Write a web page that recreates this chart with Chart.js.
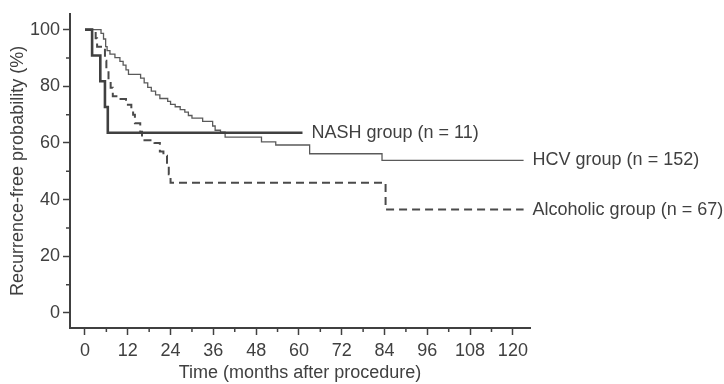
<!DOCTYPE html>
<html>
<head>
<meta charset="utf-8">
<script src="https://cdn.jsdelivr.net/npm/chart.js@4.4.1/dist/chart.umd.min.js"></script>
<style>
  html, body { margin: 0; padding: 0; background: #fff; }
  #wrap { width: 724px; height: 384px; }
</style>
</head>
<body>
<div id="wrap"><canvas id="km"></canvas></div>
<script>
// --- data (months, % recurrence-free) ---
const nashTimes = [0, 2, 4.3, 5.6, 6.4, 61];
const nashSurv  = [100, 90.9, 81.8, 72.7, 63.6, 63.6];

const hcvTimes = [0, 4.5, 5.2, 5.8, 6.2, 7, 8.4, 9.8, 10.7, 11.5, 12.2, 15.6, 16.6, 17.6, 18.6, 19.8, 21, 23.2, 24,
                  25.3, 26.7, 28, 29, 30, 33, 35.8, 36.5, 38, 39.3, 49.5, 53.5, 63, 83.3, 123];
const hcvSurv  = [100, 98.7, 96.7, 94, 92.6, 91.4, 90.1, 88.8, 87.5, 85.8, 84.2, 82.9, 81.2, 79.6, 78.3, 77, 75.7, 74.7, 73.6,
                  72.8, 71.8, 70.9, 69.7, 68.8, 67.6, 66, 64.5, 63.8, 62.1, 60.4, 59.3, 56.2, 53.9, 53.9];

const alcTimes = [0, 3, 3.4, 5.6, 6, 6.6, 7.2, 7.8, 9.5, 11.5, 13, 13.5, 14, 15.5, 16, 19.5, 21, 22, 23, 23.5, 24, 84.3, 123];
const alcSurv  = [100, 97, 94, 89, 86, 82, 79.5, 76.5, 75.5, 73.5, 71.5, 70, 67, 64, 61, 60, 57, 55.5, 52.5, 49, 46, 36.5, 36.5];

const groupLabels = ['NASH group (n = 11)', 'HCV group (n = 152)', 'Alcoholic group (n = 67)'];

const xTicks = [0, 12, 24, 36, 48, 60, 72, 84, 96, 108, 120];
const xMinor = [6, 18, 30, 42, 54, 66, 78, 90, 102, 114];
const yTicks = [0, 20, 40, 60, 80, 100];
const yMinor = [10, 30, 50, 70, 90];

const ink = '#404040';
const fontFamily = '"Liberation Sans", Arial, sans-serif';

function toPoints(ts, vs) {
    return ts.map((t, i) => ({ x: t, y: vs[i] }));
}

// short unlabelled ticks between the labelled ones
const minorTicks = {
    id: 'minorTicks',
    afterDraw(chart) {
        const { ctx, chartArea, scales } = chart;
        ctx.save();
        ctx.strokeStyle = ink;
        ctx.lineWidth = 1.5;
        ctx.beginPath();
        xMinor.forEach(v => {
            const px = scales.x.getPixelForValue(v);
            ctx.moveTo(px, chartArea.bottom);
            ctx.lineTo(px, chartArea.bottom + 4);
        });
        yMinor.forEach(v => {
            const py = scales.y.getPixelForValue(v);
            ctx.moveTo(chartArea.left, py);
            ctx.lineTo(chartArea.left - 4, py);
        });
        ctx.stroke();
        ctx.restore();
    }
};

// group names written at the end of each curve
const endLabels = {
    id: 'endLabels',
    afterDraw(chart) {
        const ctx = chart.ctx;
        ctx.save();
        ctx.fillStyle = ink;
        ctx.font = '18px ' + fontFamily;
        ctx.textBaseline = 'middle';
        ctx.textAlign = 'left';
        chart.data.datasets.forEach((ds, i) => {
            const pts = chart.getDatasetMeta(i).data;
            const last = pts[pts.length - 1];
            ctx.fillText(groupLabels[i], last.x + 9, last.y);
        });
        ctx.restore();
    }
};

const ctx = document.getElementById('km').getContext('2d');
new Chart(ctx, {
    type: 'scatter',
    data: {
        datasets: [
            { label: groupLabels[0], data: toPoints(nashTimes, nashSurv), showLine: true, stepped: true,
              borderColor: '#404040', borderWidth: 2.6, pointRadius: 0 },
            { label: groupLabels[1], data: toPoints(hcvTimes, hcvSurv), showLine: true, stepped: true,
              borderColor: '#5a5a5a', borderWidth: 1.3, pointRadius: 0 },
            { label: groupLabels[2], data: toPoints(alcTimes, alcSurv), showLine: true, stepped: true,
              borderColor: '#4a4a4a', borderWidth: 2, borderDash: [8, 5], pointRadius: 0 }
        ]
    },
    options: {
        responsive: true,
        maintainAspectRatio: false,
        animation: false,
        layout: { padding: { left: 0, right: 194, top: 13, bottom: 0 } },
        plugins: { legend: { display: false }, tooltip: { enabled: false } },
        scales: {
            x: {
                type: 'linear', min: -4.2, max: 124.8,
                afterBuildTicks: s => { s.ticks = xTicks.map(v => ({ value: v })); },
                afterFit: s => { s.height = 56; },
                grid: { drawOnChartArea: false, tickLength: 7, tickColor: ink, tickWidth: 1.5 },
                border: { color: ink, width: 2 },
                ticks: { autoSkip: false, maxRotation: 0, padding: 5, color: ink, font: { size: 18, family: fontFamily } },
                title: { display: true, text: 'Time (months after procedure)', color: ink,
                         padding: { top: 0, bottom: 0 }, font: { size: 18, family: fontFamily } }
            },
            y: {
                type: 'linear', min: -5.3, max: 105.6,
                afterBuildTicks: s => { s.ticks = yTicks.map(v => ({ value: v })); },
                afterFit: s => { s.width = 70; },
                grid: { drawOnChartArea: false, tickLength: 7, tickColor: ink, tickWidth: 1.5 },
                border: { color: ink, width: 2 },
                ticks: { autoSkip: false, padding: 3, color: ink, font: { size: 18, family: fontFamily } },
                title: { display: true, text: 'Recurrence-free probability (%)', color: ink,
                         padding: { top: 7, bottom: 0 }, font: { size: 18, family: fontFamily } }
            }
        }
    },
    plugins: [minorTicks, endLabels]
});
</script>
</body>
</html>
